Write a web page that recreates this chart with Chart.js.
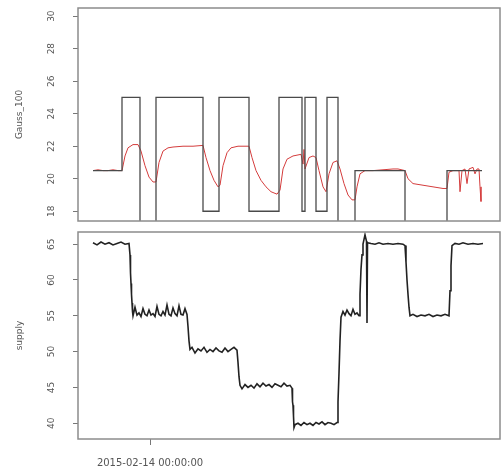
<!DOCTYPE html>
<html>
<head>
<meta charset="utf-8">
<script src="https://cdn.jsdelivr.net/npm/chart.js@4/dist/chart.umd.min.js"></script>
<style>
  body { margin: 0; background: #fff; }
  canvas { display: block; }
</style>
</head>
<body>
<canvas id="topChart" width="502" height="226"></canvas>
<canvas id="bottomChart" width="502" height="250"></canvas>
<script>
// hours since start of the log
const xMin = -1.5;
const xMax = 40.7;
const dayTicks = [5.7];
const dayLabels = ['2015-02-14 00:00:00'];

// setpoint (stepped), value holds from each time on
const setTime = [0, 2.9, 4.7, 6.3, 11.0, 12.6, 15.6, 18.6, 20.9, 21.2, 22.3, 23.4, 24.5, 26.2, 31.2, 35.4, 38.9];
const setVal = [20.5, 25, 15, 25, 18, 25, 18, 25, 18, 25, 18, 25, 15, 20.5, 15, 20.5, 20.5];

// measured room temperature
const tempTime = [0, 0.5, 1, 1.5, 2, 2.5, 2.9, 3.2, 3.5, 4.0, 4.5, 4.8, 5.2, 5.6, 6.0, 6.3, 6.6, 7.0, 7.5, 8, 9, 10, 11.0,
  11.3, 11.7, 12.1, 12.5, 12.7, 13.0, 13.4, 13.8, 14.5, 15.6, 15.9, 16.3, 16.8, 17.3, 17.8, 18.4, 18.7, 19.0, 19.4, 20.0,
  20.8, 21.0, 21.1, 21.2, 21.6, 22.0, 22.3, 22.6, 23.0, 23.3, 23.6, 24.0, 24.4, 24.7, 25.1, 25.5, 25.9, 26.2, 26.4, 26.7,
  27.2, 28, 29, 30, 30.5, 31.2, 31.5, 32, 33, 34, 35, 35.4, 35.6, 36, 36.6, 36.7, 36.9, 37.2, 37.4, 37.6, 38.0, 38.2,
  38.4, 38.6, 38.7, 38.8];
const tempVal = [20.5, 20.55, 20.5, 20.5, 20.55, 20.5, 20.5, 21.4, 21.9, 22.1, 22.1, 21.7, 20.8, 20.1, 19.8, 19.8, 21.0, 21.7, 21.9, 21.95, 22.0, 22.0, 22.05,
  21.3, 20.5, 19.9, 19.5, 19.6, 20.8, 21.6, 21.9, 22.0, 22.0, 21.3, 20.5, 19.9, 19.5, 19.2, 19.05, 19.3, 20.6, 21.2, 21.4,
  21.5, 20.9, 21.8, 20.6, 21.3, 21.4, 21.3, 20.5, 19.5, 19.2, 20.3, 21.0, 21.1, 20.6, 19.7, 19.0, 18.7, 18.7, 19.5, 20.3,
  20.5, 20.5, 20.55, 20.6, 20.6, 20.5, 20.0, 19.7, 19.6, 19.5, 19.4, 19.4, 20.4, 20.5, 20.5, 19.2, 20.5, 20.6, 19.7, 20.6, 20.7, 20.3,
  20.6, 20.6, 19.5, 18.6];

// supply temperature
const supplyTime = [0.0, 0.4, 0.8, 1.2, 1.6, 2.0, 2.4, 2.8, 3.2, 3.6,
  3.7, 3.75, 3.8, 3.85, 3.9, 3.95, 4.0,
  4.2, 4.4, 4.6, 4.8, 5.0, 5.2, 5.4, 5.6, 5.8, 6.0, 6.2, 6.4, 6.6, 6.8, 7.0, 7.2, 7.4, 7.6, 7.8, 8.0, 8.2, 8.4, 8.6, 8.8, 9.0, 9.2, 9.4,
  9.5, 9.6, 9.7,
  9.9, 10.2, 10.5, 10.8, 11.1, 11.4, 11.7, 12.0, 12.3, 12.6, 12.9, 13.2, 13.5, 13.8, 14.1, 14.4,
  14.5, 14.6, 14.7,
  14.9, 15.2, 15.5, 15.8, 16.1, 16.4, 16.7, 17.0, 17.3, 17.6, 17.9, 18.2, 18.5, 18.8, 19.1, 19.4, 19.7, 19.9,
  19.95, 20.0, 20.05, 20.1, 20.2,
  20.5, 20.8, 21.1, 21.4, 21.7, 22.0, 22.3, 22.6, 22.9, 23.2, 23.5, 23.8, 24.1, 24.4,
  24.5, 24.6, 24.7, 24.8,
  25.0, 25.2, 25.4, 25.6, 25.8, 26.0, 26.2, 26.4, 26.6,
  26.7, 26.8, 26.9, 27.0, 27.2, 27.35, 27.4, 27.45,
  27.8, 28.2, 28.6, 29.0, 29.5, 30.0, 30.5, 31.0, 31.2,
  31.3, 31.4, 31.5, 31.6, 31.7,
  32.0, 32.4, 32.8, 33.2, 33.6, 34.0, 34.4, 34.8, 35.2, 35.6,
  35.7, 35.8, 35.9, 36.2, 36.6, 37.0, 37.5, 38.0, 38.5, 39.0];
const supplyVal = [65.2, 64.9, 65.3, 65.0, 65.2, 64.9, 65.1, 65.3, 65.0, 65.1,
  63.5, 61.0, 59.5, 58.0, 56.8, 55.6, 55.0,
  56.2, 55.1, 55.4, 54.9, 56.0, 55.2, 55.0, 55.8, 55.1, 55.3, 54.9, 56.3, 55.2, 55.0, 55.6, 55.1, 56.5, 55.2, 55.0, 56.1, 55.3, 55.0, 56.4, 55.2, 55.1, 56.0, 55.2,
  53.5, 51.5, 50.3,
  50.6, 49.8, 50.4, 50.1, 50.6, 49.9, 50.3, 50.0, 50.5, 50.1, 49.9, 50.5, 50.0, 50.3, 50.6, 50.2,
  48.5, 46.5, 45.3,
  44.8, 45.4, 45.0, 45.3, 44.9, 45.5, 45.1, 45.6, 45.2, 45.4, 45.0, 45.5, 45.3, 45.1, 45.6, 45.2, 45.3, 44.9,
  43.0, 42.5, 41.0, 39.4, 39.8,
  40.0, 39.7, 40.1, 39.8, 40.0, 39.7, 40.1, 39.9, 40.2, 39.8, 40.1, 40.0, 39.8, 40.1,
  43.0, 47.0, 51.5, 54.8,
  55.6, 55.1, 55.8, 55.3, 55.0, 55.9, 55.2, 55.4, 55.0,
  58.0, 61.5, 63.5, 65.0, 66.3, 65.4, 54.0, 65.2,
  65.1, 65.0, 65.2, 65.0, 65.1, 65.0, 65.1, 65.0, 64.8,
  62.5, 60.0, 58.0, 56.2, 55.0,
  55.2, 54.9, 55.1, 55.0, 55.2, 54.9, 55.1, 55.0, 55.2, 55.0,
  58.5, 62.0, 64.8, 65.1, 65.0, 65.2, 65.0, 65.1, 65.0, 65.1];

const tempTicks = [18, 20, 22, 24, 26, 28, 30];
const supplyTicks = [40, 45, 50, 55, 60, 65];

const toPoints = (xs, ys) => xs.map((x, i) => ({ x: x, y: ys[i] }));

// R style box round the plot region
const boxPlugin = {
  id: 'box',
  afterDatasetsDraw(chart) {
    const { ctx, chartArea: a } = chart;
    ctx.save();
    ctx.strokeStyle = '#8c8c8c';
    ctx.lineWidth = 1.5;
    ctx.strokeRect(a.left, a.top, a.right - a.left, a.bottom - a.top);
    ctx.restore();
  }
};

function yScale(title, min, max, ticks) {
  return {
    min: min,
    max: max,
    afterBuildTicks: s => { s.ticks = ticks.map(v => ({ value: v })); },
    afterFit: s => { // fixed width, no extra room for rotated labels
      s.width = 78;
      s.paddingTop = 0;
      s.paddingBottom = 0;
    },
    border: { display: false },
    grid: { drawOnChartArea: false, tickLength: 5, color: '#777' },
    ticks: { minRotation: 90, maxRotation: 90, crossAlign: 'center', padding: 16, color: '#555', font: { size: 9, family: 'DejaVu Sans' } },
    title: { display: true, text: title, color: '#555', font: { size: 9, family: 'DejaVu Sans' }, padding: { top: 14, bottom: 0 } }
  };
}

Chart.defaults.animation = false;
Chart.defaults.devicePixelRatio = 1;

new Chart(document.getElementById('topChart'), {
  type: 'line',
  data: {
    datasets: [{
      data: toPoints(setTime, setVal),
      stepped: true,
      borderColor: '#4a4a4a',
      borderWidth: 1.3,
      pointRadius: 0
    }, {
      data: toPoints(tempTime, tempVal),
      borderColor: '#d43c3c',
      borderWidth: 1,
      pointRadius: 0
    }]
  },
  options: {
    responsive: false,
    layout: { padding: { top: 8, right: 2, bottom: 5, left: 0 } },
    plugins: { legend: { display: false }, tooltip: { enabled: false } },
    scales: {
      x: { type: 'linear', min: xMin, max: xMax, display: false },
      y: yScale('Gauss_100', 17.4, 30.5, tempTicks)
    }
  },
  plugins: [boxPlugin]
});

new Chart(document.getElementById('bottomChart'), {
  type: 'line',
  data: {
    datasets: [{
      data: toPoints(supplyTime, supplyVal),
      borderColor: '#222',
      borderWidth: 1.6,
      pointRadius: 0
    }]
  },
  options: {
    responsive: false,
    layout: { padding: { top: 6, right: 2, bottom: 0, left: 0 } },
    plugins: { legend: { display: false }, tooltip: { enabled: false } },
    scales: {
      x: {
        type: 'linear',
        min: xMin,
        max: xMax,
        afterBuildTicks: s => { s.ticks = dayTicks.map(v => ({ value: v })); },
        afterFit: s => { s.height = 37; },
        border: { display: false },
        grid: { drawOnChartArea: false, tickLength: 6, color: '#777' },
        ticks: { callback: (v, i) => dayLabels[i], maxRotation: 0, padding: 12, color: '#555', font: { size: 10, family: 'DejaVu Sans' } }
      },
      y: yScale('supply', 37.8, 66.7, supplyTicks)
    }
  },
  plugins: [boxPlugin]
});
</script>
</body>
</html>
